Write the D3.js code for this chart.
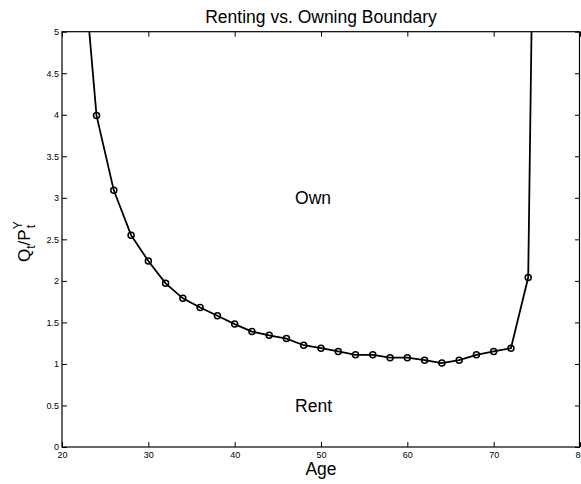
<!DOCTYPE html>
<html>
<head>
<meta charset="utf-8">
<script src="https://cdn.jsdelivr.net/npm/d3@7"></script>
<style>
  body { margin: 0; background: #fff; }
  text { font-family: "Liberation Sans", Arial, Helvetica, sans-serif; fill: #000; }
</style>
</head>
<body>
<script>
// data
var ages = [22, 24, 26, 28, 30, 32, 34, 36, 38, 40, 42, 44, 46, 48, 50, 52, 54, 56, 58, 60, 62, 64, 66, 68, 70, 72, 74, 76];
var boundary = [6.4, 3.99, 3.09, 2.55, 2.24, 1.97, 1.79, 1.68, 1.58, 1.48, 1.39, 1.345, 1.305, 1.225, 1.19, 1.15, 1.11, 1.11, 1.075, 1.075, 1.045, 1.01, 1.045, 1.11, 1.15, 1.19, 2.04, 17.5];
var xTicks = [20, 30, 40, 50, 60, 70, 80];
var yTicks = [0, 0.5, 1, 1.5, 2, 2.5, 3, 3.5, 4, 4.5, 5];
var regionLabels = [{age: 47, val: 3, txt: 'Own'}, {age: 47, val: 0.5, txt: 'Rent'}];

var W = 581, H = 484;
var margin = {left: 62, right: 1, top: 31.7, bottom: 37};

var svg = d3.select('body').append('svg')
    .attr('width', W).attr('height', H);

var x = d3.scaleLinear().domain([20, 80]).range([margin.left, W - margin.right]);
var y = d3.scaleLinear().domain([0, 5]).range([H - margin.bottom, margin.top]);

// clip so the two ends of the curve leave the box like in matlab
svg.append('clipPath').attr('id', 'plotclip')
  .append('rect')
    .attr('x', x(20)).attr('y', y(5))
    .attr('width', x(80) - x(20)).attr('height', y(0) - y(5));

// axes, ticks pointing inward
function styleAxis(g) {
    g.select('.domain').remove();
    g.selectAll('.tick line').attr('stroke', '#000').attr('stroke-width', 1);
    g.selectAll('.tick text').style('font-size', '9px').style('font-family', '"Liberation Sans", Arial, sans-serif');
}
svg.append('g').attr('transform', 'translate(0,' + y(0) + ')')
    .call(d3.axisBottom(x).tickValues(xTicks).tickFormat(d3.format('d')).tickSizeInner(-5).tickSizeOuter(0).tickPadding(4.5))
    .call(styleAxis);
svg.append('g').attr('transform', 'translate(' + x(20) + ',0)')
    .call(d3.axisLeft(y).tickValues(yTicks).tickFormat(function(d){ return d; }).tickSizeInner(-5).tickSizeOuter(0).tickPadding(3))
    .call(styleAxis);
svg.append('g').attr('transform', 'translate(0,' + y(5) + ')')
    .call(d3.axisTop(x).tickValues(xTicks).tickFormat('').tickSizeInner(-5).tickSizeOuter(0))
    .call(styleAxis);
svg.append('g').attr('transform', 'translate(' + x(80) + ',0)')
    .call(d3.axisRight(y).tickValues(yTicks).tickFormat('').tickSizeInner(-5).tickSizeOuter(0))
    .call(styleAxis);

// box
svg.append('rect')
    .attr('x', x(20)).attr('y', y(5))
    .attr('width', x(80) - x(20) - 0.5).attr('height', y(0) - y(5))
    .attr('fill', 'none').attr('stroke', '#000').attr('stroke-width', 1.2);

// boundary curve
var pts = ages.map(function(a, i){ return [a, boundary[i]]; });
var plotG = svg.append('g').attr('clip-path', 'url(#plotclip)');
plotG.append('path')
    .datum(pts)
    .attr('d', d3.line().x(function(d){ return x(d[0]); }).y(function(d){ return y(d[1]); }))
    .attr('fill', 'none').attr('stroke', '#000').attr('stroke-width', 1.8);
plotG.selectAll('circle.mk')
    .data(pts)
  .enter().append('circle')
    .attr('class', 'mk')
    .attr('cx', function(d){ return x(d[0]); })
    .attr('cy', function(d){ return y(d[1]); })
    .attr('r', 3)
    .attr('fill', 'none').attr('stroke', '#000').attr('stroke-width', 1.5);

// region labels
svg.selectAll('text.region')
    .data(regionLabels)
  .enter().append('text')
    .attr('class', 'region')
    .attr('x', function(d){ return x(d.age); })
    .attr('y', function(d){ return y(d.val); })
    .attr('dy', '0.35em')
    .style('font-size', '17.5px')
    .text(function(d){ return d.txt; });

// title
svg.append('text')
    .attr('x', (x(20) + x(80)) / 2).attr('y', 23)
    .attr('text-anchor', 'middle')
    .style('font-size', '17.5px')
    .text('Renting vs. Owning Boundary');

// x label
svg.append('text')
    .attr('x', (x(20) + x(80)) / 2).attr('y', 475)
    .attr('text-anchor', 'middle')
    .style('font-size', '17.5px')
    .text('Age');

// y label  Q_t/P_t^Y
var ylab = svg.append('text')
    .attr('transform', 'translate(29.5,' + 262 + ') rotate(-90)')
    .style('font-size', '17px');
ylab.append('tspan').text('Q');
ylab.append('tspan').attr('dy', 5).style('font-size', '12px').text('t');
ylab.append('tspan').attr('dy', -5).text('/P');
ylab.append('tspan').attr('dy', -8).style('font-size', '12px').text('Y');
ylab.append('tspan').attr('dx', -7).attr('dy', 13).style('font-size', '12px').text('t');
</script>
</body>
</html>
